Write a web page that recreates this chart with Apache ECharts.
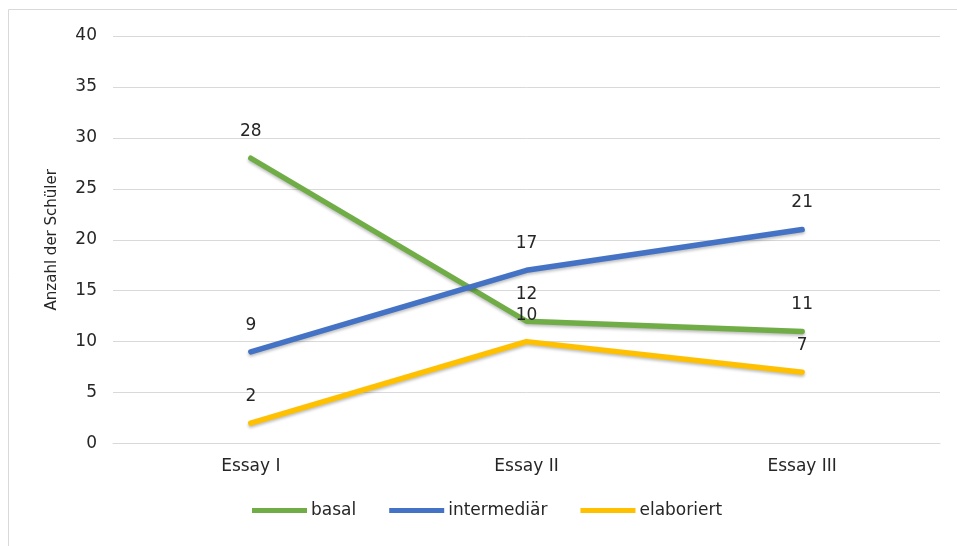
<!DOCTYPE html>
<html>
<head>
<meta charset="utf-8">
<script src="https://cdn.jsdelivr.net/npm/echarts@6/dist/echarts.min.js"></script>
<style>
  html, body { margin: 0; padding: 0; background: #fff; }
  #chart { width: 957px; height: 546px; }
</style>
</head>
<body>
<div id="chart"></div>
<script>
// Essays and the number of students at each competence level
const categories = ['Essay I', 'Essay II', 'Essay III'];
const basal = [28, 12, 11];
const intermediaer = [9, 17, 21];
const elaboriert = [2, 10, 7];
const yTicks = { min: 0, max: 40, interval: 5 };

const FONT = 'DejaVu Sans';
const TEXT = '#262626';

function lineSeries(name, data, color) {
  return {
    name: name,
    type: 'line',
    data: data,
    // tiny markers hidden under the thick line, they only carry the value labels
    symbol: 'circle',
    symbolSize: 2,
    showSymbol: true,
    lineStyle: {
      width: 5.5,
      color: color,
      cap: 'round',
      join: 'round',
      shadowColor: 'rgba(0,0,0,0.25)',
      shadowBlur: 3,
      shadowOffsetY: 2
    },
    itemStyle: { color: color },
    label: {
      show: true,
      position: 'top',
      distance: 17,
      color: TEXT,
      fontFamily: FONT,
      fontSize: 17
    },
    labelLayout: { hideOverlap: false },
    emphasis: { disabled: true }
  };
}

const chart = echarts.init(document.getElementById('chart'), null, { renderer: 'canvas' });
chart.setOption({
  animation: false,
  backgroundColor: '#fff',
  graphic: [{
    type: 'rect',
    left: 6,
    top: 7,
    shape: { width: 970, height: 560 },
    style: { fill: 'none', stroke: '#d9d9d9', lineWidth: 1 },
    silent: true,
    z: -1
  }],
  grid: { left: 113, right: 17, top: 36, bottom: 102.5 },
  legend: {
    bottom: 22,
    left: 247,
    itemWidth: 55,
    itemHeight: 5,
    itemGap: 33,
    textStyle: { color: TEXT, fontFamily: FONT, fontSize: 17, padding: [0, 0, 0, -1] },
    data: [
      { name: 'basal', icon: 'rect' },
      { name: 'intermediär', icon: 'rect' },
      { name: 'elaboriert', icon: 'rect' }
    ]
  },
  xAxis: {
    type: 'category',
    data: categories,
    boundaryGap: true,
    axisLine: { show: true, lineStyle: { color: '#d9d9d9', width: 1 } },
    axisTick: { show: false },
    axisLabel: { color: TEXT, fontFamily: FONT, fontSize: 17, margin: 15 }
  },
  yAxis: {
    type: 'value',
    min: yTicks.min,
    max: yTicks.max,
    interval: yTicks.interval,
    name: 'Anzahl der Schüler',
    nameLocation: 'middle',
    nameGap: 53,
    nameTextStyle: { color: TEXT, fontFamily: FONT, fontSize: 15 },
    axisLine: { show: false },
    axisTick: { show: false },
    axisLabel: { color: TEXT, fontFamily: FONT, fontSize: 17, margin: 16 },
    splitLine: { lineStyle: { color: '#d9d9d9', width: 1 } }
  },
  series: [
    lineSeries('basal', basal, '#70AD47'),
    lineSeries('intermediär', intermediaer, '#4472C4'),
    lineSeries('elaboriert', elaboriert, '#FFC000')
  ]
});
</script>
</body>
</html>
